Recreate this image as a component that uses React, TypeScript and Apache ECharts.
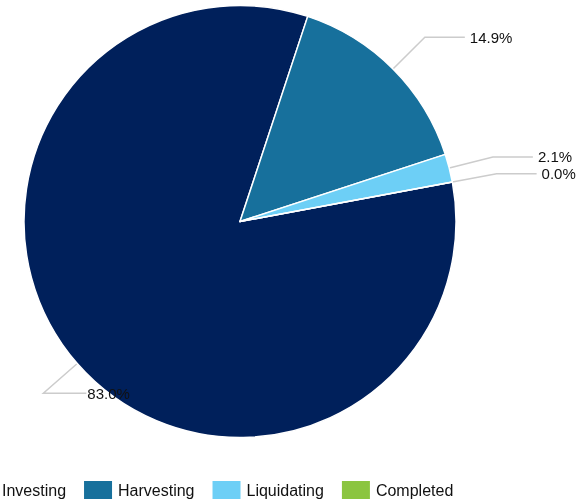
import React, { useEffect, useRef } from "react";
import * as echarts from "echarts";

const categories = ["Investing", "Harvesting", "Liquidating", "Completed"];
const values = [83.0, 14.9, 2.1, 0.01];
const colors = ["#00205b", "#17709c", "#6dcff6", "#8bc540"];

const FONT = "'Liberation Sans', Arial, sans-serif";

export default function App() {
  const ref = useRef<HTMLDivElement>(null);
  useEffect(() => {
    if (!ref.current) return;
    const chart = echarts.init(ref.current, undefined, { renderer: "svg" });
    chart.setOption({
      animation: false,
      color: colors,
      legend: {
        data: categories,
        left: -34,
        top: 479,
        padding: 0,
        itemWidth: 30,
        itemHeight: 20,
        itemGap: 16,
        icon: "rect",
        textStyle: { fontFamily: FONT, fontSize: 16, color: "#111" },
      },
      series: [
        {
          type: "pie",
          center: [240, 221.5],
          radius: 216,
          startAngle: 10.5,
          clockwise: true,
          avoidLabelOverlap: false,
          itemStyle: { borderColor: "#fff", borderWidth: 1.5 },
          label: {
            show: true,
            fontFamily: FONT,
            fontSize: 15,
            color: "#111",
            formatter: (p: any) => p.value.toFixed(1) + "%",
          },
          labelLine: {
            show: true,
            length: 45,
            length2: 40,
            lineStyle: { color: "#cccccc", width: 1.5 },
          },
          labelLayout: (params: any) => {
            if (params.dataIndex === 0 && params.labelLinePoints) {
              const pts = params.labelLinePoints;
              const p1 = pts[1];
              const endX = p1[0] + 43;
              return {
                labelLinePoints: [pts[0], p1, [endX, p1[1]]],
                x: endX + 1,
                y: p1[1],
                align: "left",
                verticalAlign: "middle",
              };
            }
            return {};
          },
          data: categories.map((name, i) => ({ name, value: values[i] })),
        },
      ],
    });
    return () => chart.dispose();
  }, []);
  return (
    <div
      ref={ref}
      style={{ position: "fixed", left: 0, top: 0, width: 584, height: 502 }}
    />
  );
}
